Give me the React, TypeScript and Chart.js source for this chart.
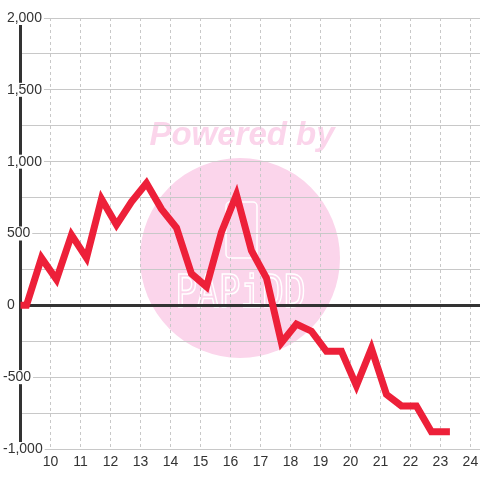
import React, { useEffect, useRef } from 'react';
import { Chart, registerables } from 'chart.js';

Chart.register(...registerables);

// Data (hours of the day, value)
const hours = [
  9.0, 9.2, 9.7, 10.2, 10.7, 11.2, 11.7, 12.2, 12.7, 13.2,
  13.7, 14.2, 14.7, 15.2, 15.7, 16.2, 16.7, 17.2, 17.7, 18.2,
  18.7, 19.2, 19.7, 20.2, 20.7, 21.2, 21.7, 22.2, 22.7, 23.2,
];
const values = [
  0, 0, 330, 180, 490, 330, 740, 560, 720, 850,
  670, 540, 220, 130, 510, 770, 380, 190, -260, -130,
  -180, -320, -320, -560, -300, -620, -700, -700, -880, -880,
];
const xTickValues = [10, 11, 12, 13, 14, 15, 16, 17, 18, 19, 20, 21, 22, 23, 24];
const yLabelStep = 500;

const X_MIN = 9;
const X_MAX = 24.32;
const Y_MIN = -1000;
const Y_MAX = 2000;

const RED = '#ed2039';
const PINK = '#fbd5eb';
const DARK = '#333333';
const GRID = '#c8c8c8';
const FONT = "'Liberation Sans', Arial, sans-serif";

const watermarkPlugin = {
  id: 'watermark',
  beforeDraw(chart: any) {
    const ctx = chart.ctx as CanvasRenderingContext2D;
    const w = chart.width;
    const h = chart.height;
    const cx = w * 0.5;
    const cy = h * 0.5375;
    const r = h * 0.2083;
    ctx.save();
    ctx.fillStyle = PINK;
    ctx.beginPath();
    ctx.arc(cx, cy, r, 0, Math.PI * 2);
    ctx.fill();

    ctx.font = `italic bold 33px ${FONT}`;
    ctx.textAlign = 'center';
    ctx.textBaseline = 'alphabetic';
    ctx.fillText('Powered by', cx + 2, h * 0.302);

    // logo outline
    ctx.strokeStyle = '#ffffff';
    ctx.lineWidth = 1.5;
    ctx.beginPath();
    (ctx as any).roundRect(cx - 14, cy - 56, 31, 56, 4);
    ctx.stroke();

    ctx.translate(cx + 0.5, cy + 49);
    ctx.scale(1.13, 1.37);
    ctx.font = `32px 'DejaVu Sans Mono', monospace`;
    ctx.lineWidth = 1.2;
    ctx.strokeText('PAPiDD', 0, 0);
    ctx.restore();
  },
};

export default function App() {
  const canvasRef = useRef<HTMLCanvasElement | null>(null);

  useEffect(() => {
    const canvas = canvasRef.current;
    if (!canvas) return;
    const points = hours.map((x, i) => ({ x, y: values[i] }));
    const chart = new Chart(canvas, {
      type: 'line',
      data: {
        datasets: [
          {
            data: points,
            borderColor: RED,
            backgroundColor: RED,
            borderWidth: 7,
            borderCapStyle: 'square',
            borderJoinStyle: 'miter',
            pointRadius: 0,
            pointHoverRadius: 0,
            tension: 0,
            fill: false,
          },
        ],
      },
      options: {
        responsive: false,
        animation: false,
        events: [],
        layout: { padding: { left: 20.5, right: 0, top: 18, bottom: 5.2 } },
        plugins: {
          legend: { display: false },
          tooltip: { enabled: false },
        },
        scales: {
          x: {
            type: 'linear',
            min: X_MIN,
            max: X_MAX,
            afterBuildTicks: (scale: any) => {
              scale.ticks = xTickValues.map((v) => ({ value: v }));
            },
            ticks: {
              stepSize: 1,
              includeBounds: false,
              padding: 1,
              maxRotation: 0,
              autoSkip: false,
              color: DARK,
              font: { size: 14, family: FONT, lineHeight: 1.7 },
              callback: (v: any) => String(v),
            },
            grid: { color: GRID, lineWidth: 1, drawTicks: false },
            border: { display: false, dash: [3, 3] },
          },
          y: {
            type: 'linear',
            min: Y_MIN,
            max: Y_MAX,
            afterFit: (scale: any) => {
              scale.width = 0;
            },
            ticks: {
              stepSize: 250,
              mirror: true,
              padding: -17.5,
              color: DARK,
              font: { size: 14, family: FONT, lineHeight: 1 },
              showLabelBackdrop: (c: any) => !!c.tick && c.tick.value % yLabelStep === 0,
              backdropColor: '#ffffff',
              backdropPadding: { left: 1, right: 2, top: 0, bottom: 0 },
              callback: (v: any) => {
                const n = Number(v);
                if (n % yLabelStep !== 0) return '';
                return (n >= 0 ? ' ' : '') + n.toLocaleString('en-US');
              },
            },
            grid: {
              drawTicks: false,
              color: (c: any) => (c.tick && c.tick.value === 0 ? DARK : GRID),
              lineWidth: (c: any) => (c.tick && c.tick.value === 0 ? 3 : 1),
            },
            border: { display: true, color: DARK, width: 3 },
          },
        },
      },
      plugins: [watermarkPlugin],
    } as any);
    return () => chart.destroy();
  }, []);

  return (
    <div style={{ position: 'absolute', left: 0, top: 0, width: 480, height: 480, background: '#fff' }}>
      <canvas ref={canvasRef} width={480} height={480} style={{ display: 'block' }} />
    </div>
  );
}
